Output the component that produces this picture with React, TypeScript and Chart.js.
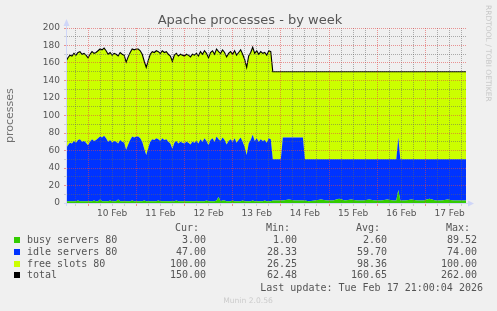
import React, { useEffect, useRef } from 'react';
import { Chart, registerables } from 'chart.js';

Chart.register(...registerables);

// time axis: hours since 10 Feb 00:00
const hours = [
  -11, -10, -9, -8, -7, -6, -5, -4, -3, -2, -1,
  0, 1, 2, 3, 4, 5, 6, 7, 8, 9,
  10, 11, 12, 13, 14, 15, 16, 17, 18, 19,
  20, 21, 22, 23, 24, 25, 26, 27, 28, 29,
  30, 31, 32, 33, 34, 35, 36, 37, 38, 39,
  40, 41, 42, 43, 44, 45, 46, 47, 48, 49,
  50, 51, 52, 53, 54, 55, 56, 57, 58, 59,
  60, 61, 62, 63, 64, 65, 66, 67, 68, 69,
  70, 71, 72, 73, 74, 75, 76, 77, 78, 79,
  80, 81, 82, 83, 84, 85, 86, 87, 88, 89,
  90, 91,
  92, 94, 96, 97, 100, 103, 106, 107, 108,
  110, 113, 116, 119, 122, 125, 128, 131, 134, 137, 140, 143, 146, 149, 152,
  153.5, 154.5, 155.5,
  158, 161, 164, 167, 170, 173, 176, 179, 182, 185, 188, 189,
];

const busy = [
  2, 2, 2, 2, 2, 2, 3, 2, 2, 2, 2,
  2, 2, 2, 3, 2, 2, 4, 2, 2, 2,
  2, 3, 2, 2, 2, 4, 2, 2, 2, 2,
  2, 2, 3, 2, 2, 2, 2, 2, 3, 2,
  2, 2, 2, 2, 2, 3, 2, 2, 2, 2,
  2, 2, 2, 2, 3, 2, 2, 2, 2, 2,
  2, 2, 2, 2, 2, 2, 2, 2, 2, 3,
  2, 2, 2, 2, 3, 7, 2, 3, 3, 2,
  2, 2, 3, 2, 2, 2, 2, 3, 2, 2,
  2, 2, 3, 2, 2, 2, 2, 2, 3, 2,
  2, 2,
  3, 3, 3, 3, 4, 3, 3, 3, 3,
  2, 3, 4, 3, 3, 5, 3, 4, 3, 3, 4, 3, 3, 4, 3,
  3, 15, 3,
  3, 4, 3, 3, 5, 3, 3, 4, 3, 3, 3, 3,
];

const idle = [
  60, 64, 67, 66, 69, 67, 69, 71, 68, 69, 67,
  64, 68, 71, 68, 70, 72, 72, 73, 75, 72,
  68, 69, 67, 69, 68, 64, 70, 68, 67, 59,
  65, 70, 73, 73, 74, 74, 72, 68, 59, 53,
  61, 68, 71, 70, 72, 70, 69, 72, 70, 71,
  68, 66, 60, 67, 68, 66, 68, 67, 66, 68,
  67, 65, 68, 67, 69, 66, 71, 68, 72, 68,
  64, 70, 72, 68, 73, 66, 69, 72, 69, 65,
  69, 71, 67, 72, 67, 70, 73, 67, 62, 53,
  66, 70, 75, 69, 72, 68, 71, 69, 69, 67,
  72, 71,
  47, 47, 47, 72, 71, 72, 72, 72, 47,
  48, 47, 46, 47, 47, 45, 47, 46, 47, 47, 46, 47, 47, 46, 47,
  47, 60, 47,
  47, 46, 47, 47, 45, 47, 47, 46, 47, 47, 47, 47,
];

const free = [
  100, 100, 100, 100, 100, 100, 100, 100, 100, 100, 100,
  100, 100, 100, 100, 100, 100, 100, 100, 100, 100,
  100, 100, 100, 100, 100, 100, 100, 100, 100, 100,
  100, 100, 100, 100, 100, 100, 100, 100, 100, 100,
  100, 100, 100, 100, 100, 100, 100, 100, 100, 100,
  100, 100, 100, 100, 100, 100, 100, 100, 100, 100,
  100, 100, 100, 100, 100, 100, 100, 100, 100, 100,
  100, 100, 100, 100, 100, 100, 100, 100, 100, 100,
  100, 100, 100, 100, 100, 100, 100, 100, 100, 100,
  100, 100, 100, 100, 100, 100, 100, 100, 100, 100,
  100, 100,
  100, 100, 100, 75, 75, 75, 75, 75, 100,
  100, 100, 100, 100, 100, 100, 100, 100, 100, 100, 100, 100, 100, 100, 100,
  100, 75, 100,
  100, 100, 100, 100, 100, 100, 100, 100, 100, 100, 100, 100,
];

const dayLabels = ['10 Feb', '11 Feb', '12 Feb', '13 Feb', '14 Feb', '15 Feb', '16 Feb', '17 Feb'];

const seriesNames = ['busy servers 80', 'idle servers 80', 'free slots 80', 'total'];
const seriesColors = ['#33cc00', '#0033ff', '#ccff00', '#000000'];
const curVals = ['3.00', '47.00', '100.00', '150.00'];
const minVals = ['1.00', '28.33', '26.25', '62.48'];
const avgVals = ['2.60', '59.70', '98.36', '160.65'];
const maxVals = ['89.52', '74.00', '100.00', '262.00'];

const X_MIN = -10.46;
const X_MAX = 188.2;
const Y_MAX = 200;

const MAJOR = 'rgba(225,70,70,0.55)';
const MINOR = 'rgba(100,100,100,0.5)';
const AXIS = '#CFD6F8';
const TEXT = '#555555';

const axisPlugin = {
  id: 'rrdAxis',
  afterDraw(chart: any) {
    const { ctx, chartArea } = chart;
    const { left, right, bottom } = chartArea;
    const ax = left - 0.5;
    const ay = bottom + 0.5;
    ctx.save();
    ctx.strokeStyle = AXIS;
    ctx.fillStyle = AXIS;
    ctx.lineWidth = 1;
    ctx.beginPath();
    ctx.moveTo(ax, bottom + 3);
    ctx.lineTo(ax, 25);
    ctx.moveTo(left - 3, ay);
    ctx.lineTo(right + 3, ay);
    ctx.stroke();
    ctx.beginPath();
    ctx.moveTo(ax, 19);
    ctx.lineTo(ax - 3, 26);
    ctx.lineTo(ax + 3, 26);
    ctx.closePath();
    ctx.fill();
    ctx.beginPath();
    ctx.moveTo(right + 8, ay);
    ctx.lineTo(right + 2, ay - 3);
    ctx.lineTo(right + 2, ay + 3);
    ctx.closePath();
    ctx.fill();
    ctx.restore();
  },
};

const mono: React.CSSProperties = {
  position: 'absolute',
  fontFamily: '"DejaVu Sans Mono", monospace',
  fontSize: 10,
  lineHeight: '12px',
  color: TEXT,
  whiteSpace: 'pre',
};

const ROW_BASE = [234, 245.8, 257.6, 269.4];
const COL_RIGHT = [206, 297, 387, 477];
const HEAD_RIGHT = [199, 290, 380, 470];
const HEADS = ['Cur:', 'Min:', 'Avg:', 'Max:'];

export default function App() {
  const ref = useRef<HTMLCanvasElement>(null);

  useEffect(() => {
    if (!ref.current) return;
    const total = busy.map((b, i) => b + idle[i] + free[i]);
    const pts = (arr: number[]) => arr.map((v, i) => ({ x: hours[i], y: v }));
    const gridHours: number[] = [];
    for (let h = -6; h <= 186; h += 6) gridHours.push(h);
    const gridValues: number[] = [];
    for (let v = 0; v <= Y_MAX; v += 10) gridValues.push(v);

    const area = (label: string, data: number[], color: string, fill: any) => ({
      label,
      data: pts(data),
      stack: 'stack',
      fill,
      backgroundColor: color,
      borderColor: 'rgba(0,0,0,0)',
      borderWidth: 0,
      pointRadius: 0,
      tension: 0,
      order: 1,
    });

    const chart = new Chart(ref.current, {
      type: 'line',
      data: {
        datasets: [
          area(seriesNames[0], busy, seriesColors[0], 'origin'),
          area(seriesNames[1], idle, seriesColors[1], '-1'),
          area(seriesNames[2], free, seriesColors[2], '-1'),
          {
            label: seriesNames[3],
            data: pts(total),
            stack: 'total',
            fill: false,
            borderColor: seriesColors[3],
            borderWidth: 1.1,
            pointRadius: 0,
            tension: 0,
            order: 0,
          } as any,
        ],
      },
      options: {
        animation: false,
        responsive: false,
        devicePixelRatio: 1,
        layout: { padding: { left: 0, right: 31, top: 28, bottom: 0 } },
        plugins: { legend: { display: false }, tooltip: { enabled: false }, title: { display: false } },
        scales: {
          x: {
            type: 'linear',
            min: X_MIN,
            max: X_MAX,
            afterBuildTicks: (s: any) => {
              s.ticks = gridHours.map((v) => ({ value: v }));
            },
            afterFit: (s: any) => {
              s.height = 108;
            },
            grid: {
              z: 1,
              color: (c: any) => (c.tick && c.tick.value % 24 === 0 ? MAJOR : MINOR),
              tickColor: (c: any) => (c.tick && c.tick.value % 24 === 0 ? MAJOR : 'rgba(143,143,143,0.35)'),
              lineWidth: 1,
              drawTicks: true,
              tickLength: 3,
            },
            border: { display: false, dash: [1, 1] },
            ticks: {
              autoSkip: false,
              maxRotation: 0,
              minRotation: 0,
              padding: 2,
              color: TEXT,
              font: { family: 'DejaVu Sans', size: 9 },
              callback: (v: any) => {
                const n = Number(v);
                if ((n - 12) % 24 !== 0) return '';
                const idx = (n - 12) / 24;
                return dayLabels[idx] ?? '';
              },
            },
          },
          y: {
            stacked: true,
            min: 0,
            max: Y_MAX,
            afterBuildTicks: (s: any) => {
              s.ticks = gridValues.map((v) => ({ value: v }));
            },
            afterFit: (s: any) => {
              s.width = 67;
            },
            grid: {
              z: 1,
              color: (c: any) => (c.tick && c.tick.value % 20 === 0 ? MAJOR : MINOR),
              tickColor: (c: any) => (c.tick && c.tick.value % 20 === 0 ? MAJOR : 'rgba(143,143,143,0.35)'),
              lineWidth: 1,
              drawTicks: true,
              tickLength: 3,
            },
            border: { display: false, dash: [1, 1] },
            ticks: {
              autoSkip: false,
              padding: 4,
              color: TEXT,
              font: { family: 'DejaVu Sans', size: 9 },
              callback: (v: any) => (Number(v) % 20 === 0 ? String(v) : ''),
            },
          },
        },
      } as any,
      plugins: [axisPlugin],
    });
    return () => chart.destroy();
  }, []);

  return (
    <div
      style={{
        position: 'fixed',
        left: 0,
        top: 0,
        width: 497,
        height: 311,
        background: '#f0f0f0',
        overflow: 'hidden',
      }}
    >
      <canvas ref={ref} width={497} height={311} style={{ position: 'absolute', left: 0, top: 0, width: 497, height: 311 }} />
      <div
        style={{
          position: 'absolute',
          left: 0,
          width: 500,
          top: 12,
          textAlign: 'center',
          fontFamily: '"DejaVu Sans", sans-serif',
          fontSize: 13,
          lineHeight: '15px',
          color: TEXT,
          whiteSpace: 'nowrap',
        }}
      >
        Apache processes - by week
      </div>
      <div
        style={{
          position: 'absolute',
          left: -18,
          top: 108,
          width: 56,
          height: 14,
          transform: 'rotate(-90deg)',
          fontFamily: '"DejaVu Sans", sans-serif',
          fontSize: 11,
          lineHeight: '14px',
          color: '#707070',
          whiteSpace: 'nowrap',
        }}
      >
        processes
      </div>
      <div
        style={{
          position: 'absolute',
          left: 439,
          top: 49,
          width: 98,
          height: 10,
          transform: 'rotate(90deg)',
          fontFamily: '"DejaVu Sans", sans-serif',
          fontSize: 7.5,
          lineHeight: '10px',
          color: '#c8c8c8',
          whiteSpace: 'nowrap',
        }}
      >
        RRDTOOL / TOBI OETIKER
      </div>
      {HEADS.map((h, i) => (
        <div key={h} style={{ ...mono, left: HEAD_RIGHT[i] - 60, width: 60, top: 222, textAlign: 'right' }}>
          {h}
        </div>
      ))}
      {seriesNames.map((name, r) => (
        <React.Fragment key={name}>
          <div
            style={{
              position: 'absolute',
              left: 14,
              top: ROW_BASE[r] + 3,
              width: 6,
              height: 6,
              background: seriesColors[r],
            }}
          />
          <div style={{ ...mono, left: 27, top: ROW_BASE[r] }}>{name}</div>
          {[curVals, minVals, avgVals, maxVals].map((col, c) => (
            <div key={c} style={{ ...mono, left: COL_RIGHT[c] - 70, width: 70, top: ROW_BASE[r], textAlign: 'right' }}>
              {col[r]}
            </div>
          ))}
        </React.Fragment>
      ))}
      <div style={{ ...mono, left: 183, width: 300, top: 281.5, textAlign: 'right' }}>
        Last update: Tue Feb 17 21:00:04 2026
      </div>
      <div
        style={{
          position: 'absolute',
          left: 148,
          width: 200,
          top: 295.5,
          textAlign: 'center',
          fontFamily: '"DejaVu Sans", sans-serif',
          fontSize: 7.6,
          lineHeight: '9px',
          color: '#cccccc',
          whiteSpace: 'nowrap',
        }}
      >
        Munin 2.0.56
      </div>
    </div>
  );
}
